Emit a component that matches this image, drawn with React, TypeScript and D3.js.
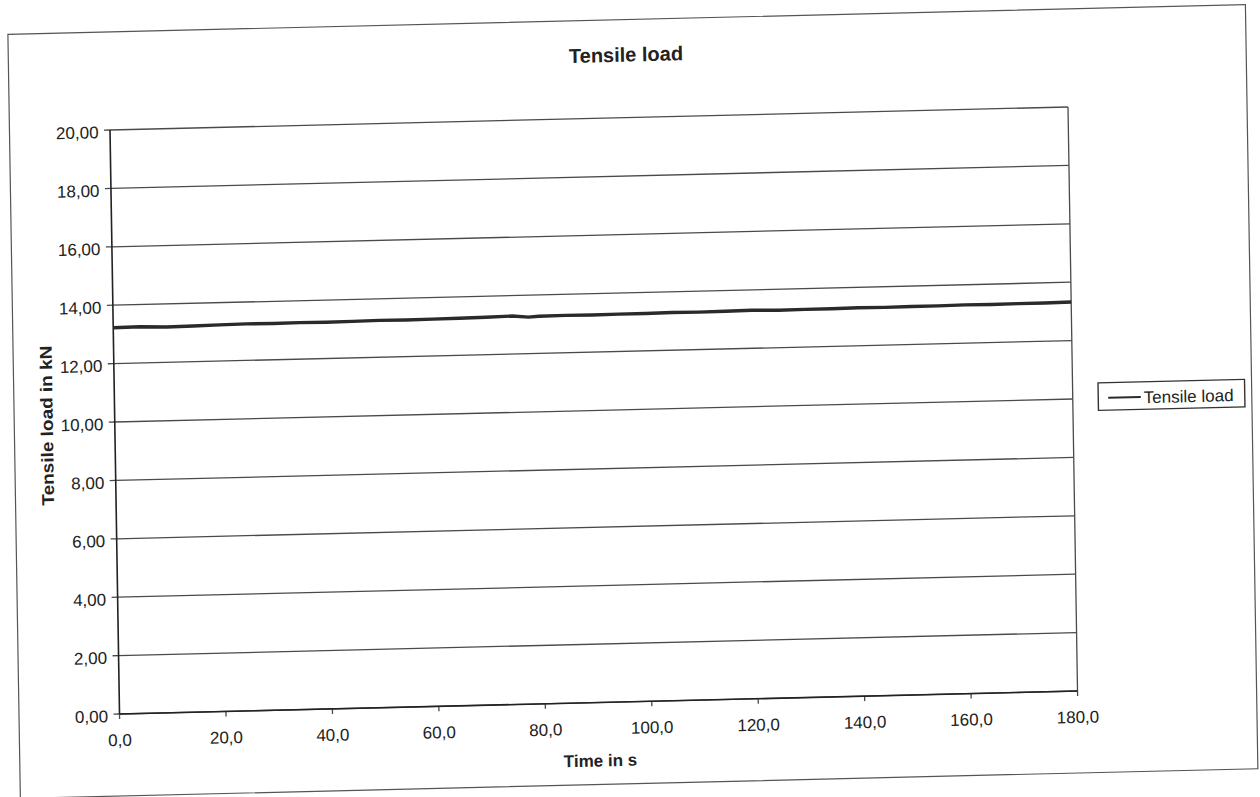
import React from "react";
import * as d3 from "d3";

const timeS = [0, 5, 10, 15, 20, 25, 30, 35, 40, 45, 50, 55, 60, 65, 70, 75, 78, 80, 85, 90, 95, 100, 105, 110, 115, 120, 125, 130, 135, 140, 145, 150, 155, 160, 165, 170, 175, 180];
const loadKN = [13.23, 13.24, 13.21, 13.22, 13.24, 13.25, 13.24, 13.25, 13.24, 13.25, 13.26, 13.25, 13.26, 13.27, 13.28, 13.30, 13.25, 13.27, 13.28, 13.27, 13.28, 13.28, 13.29, 13.28, 13.29, 13.30, 13.28, 13.29, 13.29, 13.30, 13.29, 13.30, 13.30, 13.31, 13.30, 13.31, 13.31, 13.32];
const xTicks = [0, 20, 40, 60, 80, 100, 120, 140, 160, 180];
const yTicks = [0, 2, 4, 6, 8, 10, 12, 14, 16, 18, 20];
const titleText = "Tensile load";
const xLabel = "Time in s";
const yLabel = "Tensile load in kN";
const seriesName = "Tensile load";

const FONT = "'Liberation Sans', Arial, sans-serif";
const INK = "#222";
const GRID = "#4a4a4a";

export default function App() {
  const left = 110, right = 1068, top = 130, bottom = 714;
  const x = d3.scaleLinear().domain([0, 180]).range([left, right]);
  const y = d3.scaleLinear().domain([0, 20]).range([bottom, top]);
  const pts = timeS.map((t, i) => [t, loadKN[i]] as [number, number]);
  const line = d3.line<[number, number]>().x((d) => x(d[0])).y((d) => y(d[1]));
  const fx = (v: number) => d3.format(".1f")(v).replace(".", ",");
  const fy = (v: number) => d3.format(".2f")(v).replace(".", ",");

  return (
    <svg
      width={1260}
      height={797}
      style={{ position: "absolute", left: 0, top: 0, background: "#fff" }}
      fontFamily={FONT}
    >
      <rect x={0} y={0} width={1260} height={797} fill="#fff" />
      <g transform="matrix(1,-0.024,0.0163,1,-2.12,2.64)">
        <rect x={9.5} y={32} width={1237.5} height={764} fill="none" stroke="#555" strokeWidth={1.2} />
        <text x={627} y={74} textAnchor="middle" fontSize={20} fontWeight="bold" fill={INK}>
          {titleText}
        </text>
        {yTicks.map((v) => (
          <g key={"y" + v}>
            <line x1={left} x2={right} y1={y(v)} y2={y(v)} stroke={GRID} strokeWidth={1.3} />
            <line x1={left - 6} x2={left} y1={y(v)} y2={y(v)} stroke={GRID} strokeWidth={1.3} />
            <text x={98.5} y={y(v) + 8} textAnchor="end" fontSize={17} fill={INK}>
              {fy(v)}
            </text>
          </g>
        ))}
        {xTicks.map((v) => (
          <g key={"x" + v}>
            <line x1={x(v)} x2={x(v)} y1={bottom} y2={bottom + 5} stroke={GRID} strokeWidth={1.3} />
            <text x={x(v)} y={746} textAnchor="middle" fontSize={17} fill={INK}>
              {fx(v)}
            </text>
          </g>
        ))}
        <line x1={left} x2={left} y1={top} y2={bottom} stroke="#222" strokeWidth={1.6} />
        <line x1={right} x2={right} y1={top} y2={bottom} stroke={GRID} strokeWidth={1.3} />
        <line x1={left} x2={right} y1={bottom} y2={bottom} stroke="#222" strokeWidth={1.6} />
        <path d={line(pts) || ""} fill="none" stroke="#2a2a2a" strokeWidth={3.4} strokeLinejoin="round" />
        <text x={590} y={778} textAnchor="middle" fontSize={17} fontWeight="bold" fill={INK}>
          {xLabel}
        </text>
        <text
          transform={`translate(48,424) rotate(-90)`}
          textAnchor="middle"
          fontSize={17}
          fontWeight="bold"
          fill={INK}
          textLength={160}
          lengthAdjust="spacingAndGlyphs"
        >
          {yLabel}
        </text>
        <rect x={1093.5} y={406.5} width={146.5} height={27.5} fill="#fff" stroke="#333" strokeWidth={1.4} />
        <line x1={1103.5} x2={1136} y1={421.5} y2={421.5} stroke="#2a2a2a" strokeWidth={2} />
        <text x={1139} y={428} fontSize={17} fill={INK}>
          {seriesName}
        </text>
      </g>
    </svg>
  );
}
